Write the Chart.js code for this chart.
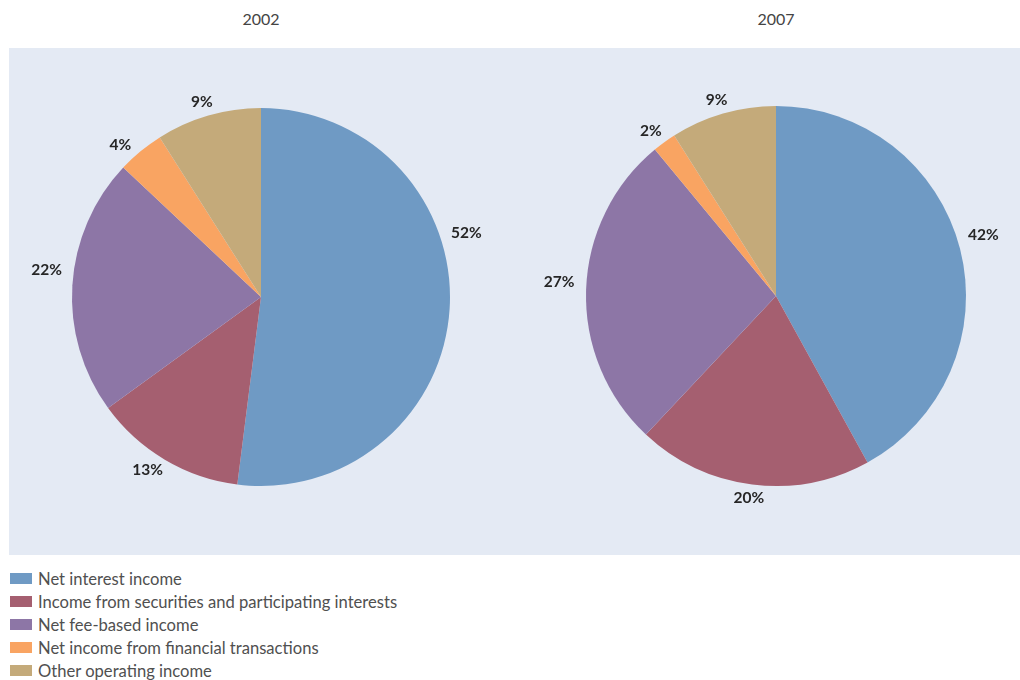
<!DOCTYPE html>
<html>
<head>
<meta charset="utf-8">
<script src="https://cdn.jsdelivr.net/npm/chart.js@4/dist/chart.umd.min.js"></script>
<style>
  html, body { margin: 0; padding: 0; background: #fff; }
  body { width: 1020px; height: 680px; position: relative; overflow: hidden; font-family: Lato, "DejaVu Sans", sans-serif; }
  #panel { position: absolute; left: 9px; top: 48px; width: 1011px; height: 507px; background: #e4eaf4; }
  .title { position: absolute; top: 9px; width: 200px; text-align: center; font-size: 16px; color: #444; }
  .wrap { position: absolute; top: 48px; height: 507px; }
  #legend { position: absolute; left: 10px; top: 567px; font-size: 16.6px; color: #505050; }
  #legend div { height: 23px; line-height: 22px; display: flex; align-items: center; }
  #legend span.sw { display: inline-block; width: 22px; height: 11px; margin-right: 6px; }
</style>
</head>
<body>
<div id="panel"></div>
<div class="title" id="t1" style="left:161px"></div>
<div class="title" id="t2" style="left:676px"></div>
<div class="wrap" style="left:9px;width:511px"><canvas id="c1" width="511" height="507"></canvas></div>
<div class="wrap" style="left:520px;width:500px"><canvas id="c2" width="500" height="507"></canvas></div>
<div id="legend"></div>
<script>
// Income composition by source, share of total (%)
const categories = [
  'Net interest income',
  'Income from securities and participating interests',
  'Net fee-based income',
  'Net income from financial transactions',
  'Other operating income'
];
const years = ['2002', '2007'];
const values2002 = [52, 13, 22, 4, 9];
const values2007 = [42, 20, 27, 2, 9];
const colors = ['#6f9ac4', '#a55f70', '#8d76a6', '#f9a462', '#c4aa7a'];

document.getElementById('t1').textContent = years[0];
document.getElementById('t2').textContent = years[1];

// Legend rows
const legend = document.getElementById('legend');
categories.forEach((name, i) => {
  const row = document.createElement('div');
  const sw = document.createElement('span');
  sw.className = 'sw';
  sw.style.background = colors[i];
  row.appendChild(sw);
  row.appendChild(document.createTextNode(name));
  legend.appendChild(row);
});

// Percentage labels placed just outside each slice
const outsideLabels = {
  id: 'outsideLabels',
  afterDatasetsDraw(chart, args, opts) {
    const ctx = chart.ctx;
    const meta = chart.getDatasetMeta(0);
    const data = chart.data.datasets[0].data;
    const shifts = opts.angleShift || [];
    ctx.save();
    ctx.font = 'bold 15.5px Lato, "DejaVu Sans", sans-serif';
    ctx.fillStyle = '#262626';
    ctx.textAlign = 'center';
    ctx.textBaseline = 'middle';
    meta.data.forEach((arc, i) => {
      const p = arc.getProps(['x', 'y', 'startAngle', 'endAngle', 'outerRadius'], true);
      const mid = (p.startAngle + p.endAngle) / 2 + (shifts[i] || 0) * Math.PI / 180;
      const txt = data[i] + '%';
      const w = ctx.measureText(txt).width;
      const dx = Math.cos(mid), dy = Math.sin(mid);
      const r = p.outerRadius + 12;
      const x = p.x + r * dx + (w / 2) * dx;
      const y = p.y + r * dy + 2 * dy;
      ctx.fillText(txt, x, y);
    });
    ctx.restore();
  }
};

function makePie(id, values, padding, angleShift) {
  return new Chart(document.getElementById(id), {
    type: 'pie',
    data: {
      labels: categories,
      datasets: [{ data: values, backgroundColor: colors, borderWidth: 0 }]
    },
    options: {
      responsive: false,
      animation: false,
      events: [],
      layout: { padding },
      plugins: {
        legend: { display: false },
        tooltip: { enabled: false },
        outsideLabels: { angleShift }
      }
    },
    plugins: [outsideLabels]
  });
}

makePie('c1', values2002, { left: 63, right: 70, top: 60, bottom: 69 }, [-22, 1, 4, -2, 0]);
makePie('c2', values2007, { left: 66, right: 54, top: 58, bottom: 69 }, [-3, 0, 2, 0, 0]);
</script>
</body>
</html>
